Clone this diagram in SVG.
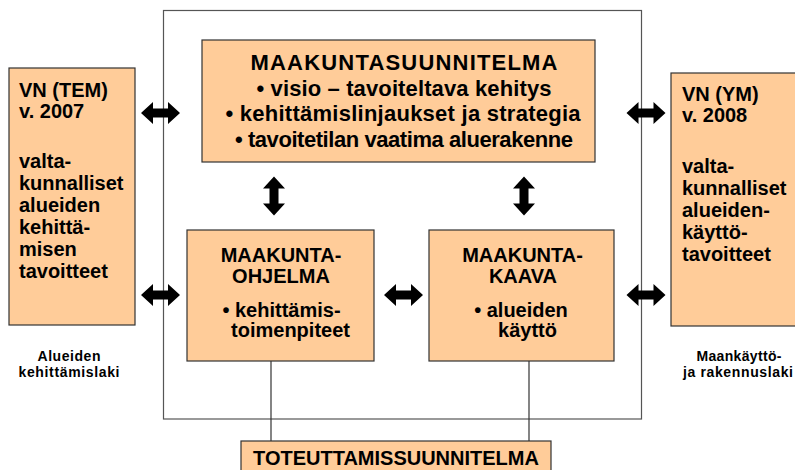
<svg xmlns="http://www.w3.org/2000/svg" xmlns:xlink="http://www.w3.org/1999/xlink" width="795" height="470" viewBox="0 0 795 470">
<defs>
<style>
.box{fill:#FFCC99;stroke:#333;stroke-width:1.2}
.t{font-family:"Liberation Sans",Arial,sans-serif;font-weight:bold;fill:#000}
.s20{font-size:20px}
.s22{font-size:22px}
.s15{font-size:14px}
.c{text-anchor:middle}
.ln{stroke:#333;stroke-width:1.2;fill:none}
.frame{stroke:#555;stroke-width:1.2;fill:none}
.arr{fill:#000}
</style>
<path id="dbl" d="M-19.5,0 L-7.5,-11 L-7.5,-4.5 L7.5,-4.5 L7.5,-11 L19.5,0 L7.5,11 L7.5,4.5 L-7.5,4.5 L-7.5,11 Z"/>
</defs>
<rect x="0" y="0" width="795" height="470" fill="#fff"/>
<rect class="frame" x="163.5" y="10.5" width="478" height="408.5"/>

<g id="connectors">
<line class="ln" x1="271" y1="361" x2="271" y2="441"/>
<line class="ln" x1="529" y1="361" x2="529" y2="441"/>
<use xlink:href="#dbl" class="arr" transform="translate(160.5,113)"/>
<use xlink:href="#dbl" class="arr" transform="translate(160.5,295)"/>
<use xlink:href="#dbl" class="arr" transform="translate(646,113)"/>
<use xlink:href="#dbl" class="arr" transform="translate(646,295)"/>
<use xlink:href="#dbl" class="arr" transform="translate(403.5,295)"/>
<use xlink:href="#dbl" class="arr" transform="translate(274,196) rotate(90)"/>
<use xlink:href="#dbl" class="arr" transform="translate(524,196) rotate(90)"/>
</g>

<g id="vn-tem">
<rect class="box" x="9" y="68" width="126" height="257"/>
<text class="t s20" x="19" y="97">VN (TEM)</text>
<text class="t s20" x="19" y="118">v. 2007</text>
<text class="t s20" x="19" y="168">valta-</text>
<text class="t s20" x="19" y="190">kunnalliset</text>
<text class="t s20" x="19" y="212">alueiden</text>
<text class="t s20" x="19" y="234">kehittä-</text>
<text class="t s20" x="19" y="256">misen</text>
<text class="t s20" x="19" y="278">tavoitteet</text>
</g>

<g id="vn-ym">
<rect class="box" x="671" y="73" width="130" height="253"/>
<text class="t s20" x="682" y="101">VN (YM)</text>
<text class="t s20" x="682" y="122">v. 2008</text>
<text class="t s20" x="682" y="173">valta-</text>
<text class="t s20" x="682" y="195">kunnalliset</text>
<text class="t s20" x="682" y="217">alueiden-</text>
<text class="t s20" x="682" y="239">käyttö-</text>
<text class="t s20" x="682" y="261">tavoitteet</text>
</g>

<g id="maakuntasuunnitelma">
<rect class="box" x="202" y="40" width="393" height="122"/>
<text class="t c" x="404" y="70" font-size="22" textLength="307">MAAKUNTASUUNNITELMA</text>
<text class="t s22 c" x="404" y="95.5" textLength="295">• visio – tavoiteltava kehitys</text>
<text class="t s22 c" x="403" y="121" textLength="355">• kehittämislinjaukset ja strategia</text>
<text class="t s22 c" x="404" y="147" textLength="338">• tavoitetilan vaatima aluerakenne</text>
</g>

<g id="maakuntaohjelma">
<rect class="box" x="187" y="230" width="187" height="131"/>
<text class="t s20 c" x="281" y="262">MAAKUNTA-</text>
<text class="t s20 c" x="281" y="283">OHJELMA</text>
<text class="t s20 c"><tspan x="281.5" y="316.5">• kehittämis-</tspan><tspan x="290.5" y="337">toimenpiteet</tspan></text>
</g>

<g id="maakuntakaava">
<rect class="box" x="429" y="230" width="185" height="131"/>
<text class="t s20 c" x="522.5" y="262">MAAKUNTA-</text>
<text class="t s20 c" x="523" y="283">KAAVA</text>
<text class="t s20 c"><tspan x="521" y="316.5">• alueiden</tspan><tspan x="527.5" y="337">käyttö</tspan></text>
</g>

<g id="toteuttamissuunnitelma">
<rect class="box" x="241" y="441" width="310" height="40"/>
<text class="t s20 c" x="396" y="465">TOTEUTTAMISSUUNNITELMA</text>
</g>

<g id="label-left">
<text class="t s15 c" x="69" y="361" textLength="63">Alueiden</text>
<text class="t s15 c" x="69" y="377" textLength="101">kehittämislaki</text>
</g>

<g id="label-right">
<text class="t s15 c" x="739" y="361" textLength="85">Maankäyttö-</text>
<text class="t s15 c" x="738" y="377" textLength="110">ja rakennuslaki</text>
</g>
</svg>
